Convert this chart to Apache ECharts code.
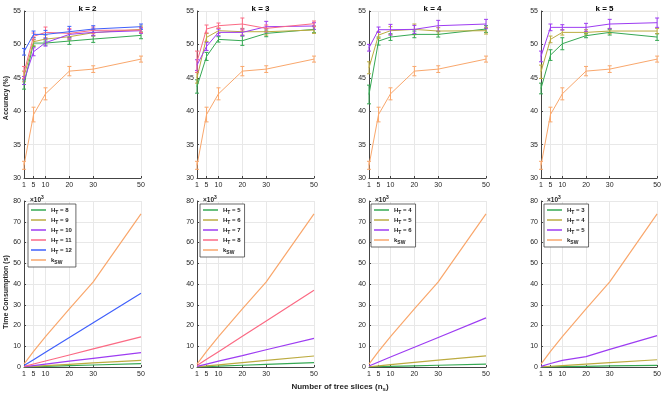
<!DOCTYPE html>
<html>
<head>
<meta charset="utf-8">
<script src="https://cdn.jsdelivr.net/npm/echarts@6/dist/echarts.min.js"></script>
<style>
  html, body { margin: 0; padding: 0; background: #fff; }
  #chart { width: 664px; height: 396px; }
</style>
</head>
<body>
<div id="chart"></div>
<script>
// x positions (number of tree slices, x10^3)
const nsTicks = [1, 5, 10, 20, 30, 50];
const kTitles = ['k = 2', 'k = 3', 'k = 4', 'k = 5'];

// k_SW baseline (same in every panel)
const accSW = [31.9, 39.5, 42.6, 46.0, 46.3, 47.8];
const errSW = [0.6, 1.1, 0.9, 0.7, 0.5, 0.45];
const timeSW = [1.4, 7.5, 14.6, 28.0, 41.0, 73.8];

// k = 2
const heights2 = [8, 9, 10, 11, 12];
const acc2_H8 = [44.0, 50.2, 50.2, 50.5, 50.8, 51.35];
const acc2_H9 = [45.2, 50.4, 50.8, 51.15, 51.75, 52.25];
const acc2_H10 = [44.6, 48.9, 50.25, 51.5, 51.8, 52.05];
const acc2_H11 = [45.8, 51.2, 51.8, 51.65, 52.1, 52.15];
const acc2_H12 = [48.9, 51.5, 51.5, 51.9, 52.3, 52.65];
const err2_H8 = [0.7, 0.5, 0.3, 0.5, 0.5, 0.5];
const err2_H9 = [0.8, 0.6, 0.6, 0.5, 0.5, 0.5];
const err2_H10 = [0.6, 0.6, 0.5, 0.7, 0.5, 0.4];
const err2_H11 = [0.9, 0.5, 0.8, 0.7, 0.5, 0.4];
const err2_H12 = [0.5, 0.5, 0.6, 0.8, 0.5, 0.4];
const time2_H8 = [0.03, 0.16, 0.32, 0.64, 0.96, 1.6];
const time2_H9 = [0.07, 0.33, 0.65, 1.3, 1.95, 3.2];
const time2_H10 = [0.14, 0.7, 1.4, 2.8, 4.2, 6.9];
const time2_H11 = [0.3, 1.45, 2.9, 5.8, 8.7, 14.5];
const time2_H12 = [0.7, 3.5, 7.1, 14.2, 21.3, 35.5];

// k = 3
const heights3 = [5, 6, 7, 8];
const acc3_H5 = [43.7, 48.2, 50.75, 50.55, 51.65, 52.25];
const acc3_H6 = [45.0, 51.05, 52.05, 51.9, 51.9, 52.15];
const acc3_H7 = [46.9, 49.7, 51.8, 51.8, 52.65, 52.75];
const acc3_H8 = [47.4, 52.3, 52.8, 53.05, 52.4, 53.1];
const err3_H5 = [1.0, 0.6, 0.4, 0.7, 0.5, 0.5];
const err3_H6 = [0.8, 0.6, 0.4, 0.5, 0.5, 0.5];
const err3_H7 = [0.8, 0.6, 0.5, 0.5, 0.8, 0.5];
const err3_H8 = [1.6, 0.6, 0.4, 0.9, 0.5, 0.4];
const time3_H5 = [0.04, 0.2, 0.4, 0.85, 1.25, 2.1];
const time3_H6 = [0.1, 0.5, 1.05, 2.1, 3.15, 5.3];
const time3_H7 = [0.28, 1.4, 2.8, 5.5, 8.3, 13.8];
const time3_H8 = [0.75, 3.7, 7.4, 14.8, 22.2, 37.0];

// k = 4
const heights4 = [4, 5, 6];
const acc4_H4 = [42.5, 50.5, 51.1, 51.5, 51.5, 52.3];
const acc4_H5 = [46.5, 51.4, 52.05, 52.25, 52.0, 52.05];
const acc4_H6 = [49.5, 52.2, 52.2, 52.25, 52.8, 53.05];
const err4_H4 = [1.4, 0.6, 0.5, 0.5, 0.4, 0.5];
const err4_H5 = [0.9, 0.5, 0.6, 0.8, 0.5, 0.5];
const err4_H6 = [0.5, 0.4, 0.8, 0.6, 0.8, 0.7];
const time4_H4 = [0.03, 0.14, 0.28, 0.56, 0.84, 1.4];
const time4_H5 = [0.11, 0.55, 1.1, 2.2, 3.3, 5.4];
const time4_H6 = [0.48, 2.4, 4.8, 9.5, 14.2, 23.7];

// k = 5
const heights5 = [3, 4, 5];
const acc5_H3 = [43.4, 48.4, 50.1, 51.3, 51.8, 51.1];
const acc5_H4 = [45.9, 50.75, 51.8, 51.8, 52.0, 52.0];
const acc5_H5 = [48.2, 52.55, 52.55, 52.55, 53.05, 53.25];
const err5_H3 = [0.8, 0.8, 0.9, 0.3, 0.4, 0.5];
const err5_H4 = [1.0, 0.5, 0.4, 0.4, 0.4, 0.4];
const err5_H5 = [0.8, 0.5, 0.4, 0.6, 0.7, 0.7];
const time5_H3 = [0.02, 0.08, 0.16, 0.33, 0.5, 0.8];
const time5_H4 = [0.07, 0.35, 0.7, 1.4, 2.1, 3.5];
const time5_H5 = [0.3, 1.7, 3.2, 5.0, 8.5, 15.1];

const GREEN = '#35a853', OLIVE = '#bcab40', PURPLE = '#9d3cf2',
      PINK = '#fb6a84', BLUE = '#4060fb', ORANGE = '#f9a76c';
const FONT = 'Liberation Sans';

const panels = [
  { heights: heights2, colors: [GREEN, OLIVE, PURPLE, PINK, BLUE],
    acc: [acc2_H8, acc2_H9, acc2_H10, acc2_H11, acc2_H12],
    err: [err2_H8, err2_H9, err2_H10, err2_H11, err2_H12],
    time: [time2_H8, time2_H9, time2_H10, time2_H11, time2_H12] },
  { heights: heights3, colors: [GREEN, OLIVE, PURPLE, PINK],
    acc: [acc3_H5, acc3_H6, acc3_H7, acc3_H8],
    err: [err3_H5, err3_H6, err3_H7, err3_H8],
    time: [time3_H5, time3_H6, time3_H7, time3_H8] },
  { heights: heights4, colors: [GREEN, OLIVE, PURPLE],
    acc: [acc4_H4, acc4_H5, acc4_H6],
    err: [err4_H4, err4_H5, err4_H6],
    time: [time4_H4, time4_H5, time4_H6] },
  { heights: heights5, colors: [GREEN, OLIVE, PURPLE],
    acc: [acc5_H3, acc5_H4, acc5_H5],
    err: [err5_H3, err5_H4, err5_H5],
    time: [time5_H3, time5_H4, time5_H5] }
];

const lefts = [24, 197, 369, 541];
const legendLefts = [28, 200, 371, 544];
const W = 117;

const grid = [], xAxis = [], yAxis = [], series = [], legend = [], title = [];

function makeX(g) {
  return {
    type: 'value', gridIndex: g, min: 1, max: 50,
    axisLine: { onZero: false, lineStyle: { color: '#444', width: 1 } },
    axisTick: { customValues: nsTicks, inside: true, length: 2, lineStyle: { color: '#444' } },
    axisLabel: { customValues: nsTicks, fontSize: 7, color: '#262626', margin: 4, fontFamily: FONT },
    splitLine: { show: true, lineStyle: { color: '#e8e8e8', width: 1 } }
  };
}
function makeY(g, min, max, interval) {
  return {
    type: 'value', gridIndex: g, min: min, max: max, interval: interval,
    axisLine: { show: true, onZero: false, lineStyle: { color: '#444', width: 1 } },
    axisTick: { show: true, inside: true, length: 2, lineStyle: { color: '#444' } },
    axisLabel: { fontSize: 7, color: '#262626', margin: 3, fontFamily: FONT },
    splitLine: { show: true, lineStyle: { color: '#e8e8e8', width: 1 } }
  };
}

function lineSeries(name, g, vals, color, width, z) {
  return {
    name: name, type: 'line', xAxisIndex: g, yAxisIndex: g,
    data: nsTicks.map((x, j) => [x, vals[j]]),
    showSymbol: false, symbol: 'none', color: color,
    lineStyle: { color: color, width: width }, itemStyle: { color: color },
    animation: false, z: z
  };
}

function errSeries(g, vals, errs, color, z) {
  return {
    type: 'custom', xAxisIndex: g, yAxisIndex: g, silent: true, animation: false, z: z,
    data: nsTicks.map((x, j) => [x, vals[j] - errs[j], vals[j] + errs[j]]),
    encode: { x: 0, y: [1, 2] },
    renderItem: function (params, api) {
      const lo = api.coord([api.value(0), api.value(1)]);
      const hi = api.coord([api.value(0), api.value(2)]);
      const w = 2;
      const st = { stroke: color, lineWidth: 1 };
      return {
        type: 'group', children: [
          { type: 'line', shape: { x1: lo[0], y1: lo[1], x2: hi[0], y2: hi[1] }, style: st },
          { type: 'line', shape: { x1: lo[0] - w, y1: lo[1], x2: lo[0] + w, y2: lo[1] }, style: st },
          { type: 'line', shape: { x1: hi[0] - w, y1: hi[1], x2: hi[0] + w, y2: hi[1] }, style: st }
        ]
      };
    }
  };
}

const legendRich = {
  b: { fontSize: 6, fontWeight: 'bold', color: '#222', fontFamily: FONT },
  s: { fontSize: 5, fontWeight: 'bold', color: '#222', fontFamily: FONT, padding: [5, 0, 0, 0] }
};

panels.forEach((p, i) => {
  const gTop = i, gBot = i + 4;
  grid.push({ left: lefts[i], top: 11, width: W, height: 167 });
  xAxis[gTop] = makeX(gTop);
  yAxis[gTop] = makeY(gTop, 30, 55, 5);

  title.push({
    text: kTitles[i], left: lefts[i] + W / 2, top: 0, textAlign: 'center',
    textStyle: { fontSize: 8, fontWeight: 'bold', color: '#000', fontFamily: FONT }
  });
  title.push({
    text: '{a|×10}{p|3}', left: lefts[i] + 1, top: 190,
    textStyle: { rich: {
      a: { fontSize: 6.5, color: '#262626', fontFamily: FONT },
      p: { fontSize: 5, color: '#262626', fontFamily: FONT, padding: [0, 0, 5, 0] }
    } }
  });

  // accuracy (top row)
  p.heights.forEach((h, s) => {
    series.push(lineSeries('acc' + i + '_' + h, gTop, p.acc[s], p.colors[s], 1, 3));
    series.push(errSeries(gTop, p.acc[s], p.err[s], p.colors[s], 3));
  });
  series.push(lineSeries('accSW' + i, gTop, accSW, ORANGE, 1, 2));
  series.push(errSeries(gTop, accSW, errSW, ORANGE, 2));

  // time consumption (bottom row)
  const names = [];
  p.heights.forEach((h, s) => {
    const nm = 'k' + i + '|' + h;
    names.push(nm);
    series.push(lineSeries(nm, gBot, p.time[s], p.colors[s], 1.2, 3));
  });
  const swName = 'k' + i + '|SW';
  names.push(swName);
  series.push(lineSeries(swName, gBot, timeSW, ORANGE, 1.2, 2));

  legend.push({
    data: names, orient: 'vertical', left: legendLefts[i], top: 204,
    icon: 'rect', itemWidth: 15, itemHeight: 1.5, itemGap: 2,
    padding: [3, 4, 2, 3], borderColor: '#444', borderWidth: 0.8,
    backgroundColor: '#fff', selectedMode: false, z: 10,
    formatter: function (name) {
      const part = name.split('|')[1];
      if (part === 'SW') return '{b|k}{s|SW}';
      return '{b|H}{s|T}{b| = ' + part + '}';
    },
    textStyle: { rich: legendRich, padding: [0, 0, 0, 0] }
  });
});

panels.forEach((p, i) => {
  const gBot = i + 4;
  grid.push({ left: lefts[i], top: 201, width: W, height: 166 });
  xAxis[gBot] = makeX(gBot);
  yAxis[gBot] = makeY(gBot, 0, 80, 10);
});

const chart = echarts.init(document.getElementById('chart'));
chart.setOption({
  animation: false,
  backgroundColor: '#fff',
  textStyle: { fontFamily: FONT },
  title: title,
  legend: legend,
  grid: grid,
  xAxis: xAxis,
  yAxis: yAxis,
  series: series,
  graphic: [
    { type: 'text', x: 6, y: 98, rotation: Math.PI / 2,
      style: { text: 'Accuracy (%)', font: 'bold 7px "Liberation Sans"', align: 'center', verticalAlign: 'middle', fill: '#262626' } },
    { type: 'text', x: 6, y: 292, rotation: Math.PI / 2,
      style: { text: 'Time Consumption (s)', font: 'bold 7px "Liberation Sans"', align: 'center', verticalAlign: 'middle', fill: '#262626' } },
    { type: 'text', x: 340, y: 387,
      style: { text: '{b|Number of tree slices (n}{s|s}{b|)}', align: 'center', verticalAlign: 'middle',
        rich: {
          b: { fontSize: 8, fontWeight: 'bold', fill: '#262626', fontFamily: FONT },
          s: { fontSize: 6, fontWeight: 'bold', fill: '#262626', fontFamily: FONT, padding: [5, 0, 0, 0] }
        } } }
  ]
});
</script>
</body>
</html>
